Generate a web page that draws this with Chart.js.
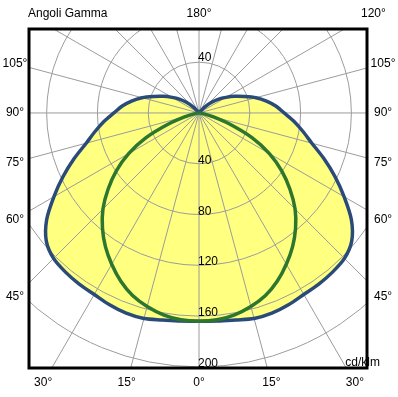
<!DOCTYPE html>
<html>
<head>
<meta charset="utf-8">
<script src="https://cdn.jsdelivr.net/npm/chart.js@4.4.0/dist/chart.umd.min.js"></script>
<style>
  body { margin: 0; background: #fff; }
  canvas { display: block; }
</style>
</head>
<body>
<canvas id="myChart" width="398" height="397"></canvas>
<script>
// gamma angles (deg from nadir) and intensities in cd/klm
const gammaAngles = [0, 5, 10, 15, 20, 25, 30, 35, 40, 45, 50, 55, 60, 65, 70, 75, 80, 85, 90,
  95, 100, 105, 110, 115, 120, 125, 130, 135, 140, 145, 150, 155, 160, 165, 170, 175, 180];
const planeC0 = [164, 164.5, 165.5, 167.6, 167.8, 166.7, 165, 164.5, 163.6, 162, 157, 146.5, 132, 118, 104.5, 92, 83, 75, 67,
  61, 54, 46.5, 38, 31, 24.5, 19, 13, 7, 2, 0, 0, 0, 0, 0, 0, 0, 0];
const planeC90 = [164, 163.5, 161.4, 157.8, 153, 146, 137.5, 128.5, 118.3, 107, 93.5, 79.5, 64, 46, 26, 11, 4, 1, 0,
  0, 0, 0, 0, 0, 0, 0, 0, 0, 0, 0, 0, 0, 0, 0, 0, 0, 0];

const radialTicks = [40, 80, 120, 160, 200];
const spokeAngles = [0, 15, 30, 45, 60, 75, 90, 105, 120, 135, 150, 165, 180, 195, 210, 225, 240, 255, 270, 285, 300, 315, 330, 345];
const sideLabels = [45, 60, 75, 90, 105];
const bottomLabels = [0, 15, 30];
const unitLabel = 'cd/klm';
const titleLabel = 'Angoli Gamma';

const rad = d => d * Math.PI / 180;

// polar (gamma, I) -> x/y, mirrored so the curve runs -180..180
function polarPoints(values) {
  const pts = [];
  for (let i = gammaAngles.length - 1; i > 0; i--) {
    const g = rad(-gammaAngles[i]);
    pts.push({ x: values[i] * Math.sin(g), y: -values[i] * Math.cos(g) });
  }
  for (let i = 0; i < gammaAngles.length; i++) {
    const g = rad(gammaAngles[i]);
    pts.push({ x: values[i] * Math.sin(g), y: -values[i] * Math.cos(g) });
  }
  return pts;
}

const font = '12px "Liberation Sans", Arial, sans-serif';

const polarGrid = {
  id: 'polarGrid',
  beforeDatasetDraw(chart, args) {
    if (args.index !== 1) return;
    const { ctx, chartArea: a, scales: { x, y } } = chart;
    const cx = x.getPixelForValue(0), cy = y.getPixelForValue(0);
    const k = x.getPixelForValue(1) - cx;
    ctx.save();
    ctx.beginPath();
    ctx.rect(a.left, a.top, a.width, a.height);
    ctx.clip();
    ctx.strokeStyle = '#9c9c9c';
    ctx.lineWidth = 1;
    radialTicks.forEach(v => {
      ctx.beginPath();
      ctx.arc(cx, cy, v * k, 0, 2 * Math.PI);
      ctx.stroke();
    });
    spokeAngles.forEach(g => {
      ctx.beginPath();
      ctx.moveTo(cx, cy);
      ctx.lineTo(cx + 600 * Math.sin(rad(g)), cy + 600 * Math.cos(rad(g)));
      ctx.stroke();
    });
    ctx.restore();
  },
  afterDatasetsDraw(chart) {
    const { ctx, chartArea: a, scales: { x, y } } = chart;
    const cx = x.getPixelForValue(0), cy = y.getPixelForValue(0);
    const k = x.getPixelForValue(1) - cx;
    ctx.save();
    ctx.font = font;
    ctx.fillStyle = '#000';

    // radial value labels
    ctx.textAlign = 'left';
    ctx.textBaseline = 'alphabetic';
    radialTicks.forEach(v => {
      const yb = cy + v * k;
      if (yb <= a.bottom + 1) ctx.fillText(String(v), cx - 1, yb);
      const yt = cy - v * k;
      if (yt - 10 >= a.top) ctx.fillText(String(v), cx - 1, yt - 1);
    });

    // angle labels
    ctx.textAlign = 'center';
    ctx.textBaseline = 'middle';
    const sideDx = cx - (a.left - 14);
    sideLabels.forEach(g => {
      const t = sideDx / Math.sin(rad(g));
      const ly = cy + t * Math.cos(rad(g));
      ctx.fillText(g + '°', cx - sideDx, ly);
      ctx.fillText(g + '°', cx + sideDx, ly);
    });
    const botY = a.bottom + 15;
    bottomLabels.forEach(g => {
      const t = (botY - cy) / Math.cos(rad(g));
      const dx = t * Math.sin(rad(g));
      ctx.fillText(g + '°', cx - dx, botY);
      if (g) ctx.fillText(g + '°', cx + dx, botY);
    });
    const topY = a.top - 15;
    ctx.fillText('180°', cx, topY);
    const t120 = (topY - cy) / Math.cos(rad(120));
    ctx.fillText('120°', cx + t120 * Math.sin(rad(120)) + 3, topY);

    ctx.textAlign = 'left';
    ctx.fillText(titleLabel, a.left - 1, topY);

    ctx.textAlign = 'right';
    ctx.textBaseline = 'alphabetic';
    ctx.fillText(unitLabel, a.right + 13, a.bottom - 2);

    // frame
    ctx.strokeStyle = '#000';
    ctx.lineWidth = 3;
    ctx.strokeRect(a.left, a.top, a.width, a.height);
    ctx.restore();
  }
};

const c0Points = polarPoints(planeC0);
const c90Points = polarPoints(planeC90);

new Chart(document.getElementById('myChart').getContext('2d'), {
  type: 'line',
  data: {
    datasets: [
      {
        label: 'fill',
        data: c0Points,
        fill: 'shape',
        backgroundColor: 'rgb(255, 255, 128)',
        borderWidth: 0,
        pointRadius: 0,
        tension: 0.3,
        order: 3
      },
      {
        label: 'C0-C180',
        data: c0Points,
        fill: false,
        borderColor: 'rgb(42, 74, 122)',
        borderWidth: 3.5,
        pointRadius: 0,
        tension: 0.3,
        order: 2
      },
      {
        label: 'C90-C270',
        data: c90Points,
        fill: false,
        borderColor: 'rgb(45, 118, 45)',
        borderWidth: 3.5,
        pointRadius: 0,
        tension: 0.3,
        order: 1
      }
    ]
  },
  options: {
    responsive: false,
    animation: false,
    events: [],
    layout: { autoPadding: false, padding: { left: 29, top: 29, right: 31, bottom: 29 } },
    plugins: { legend: { display: false }, tooltip: { enabled: false } },
    scales: {
      x: { type: 'linear', display: false, min: -133.9, max: 132.3 },
      y: { type: 'linear', display: false, min: -200.8, max: 66.1 }
    }
  },
  plugins: [polarGrid]
});
</script>
</body>
</html>
